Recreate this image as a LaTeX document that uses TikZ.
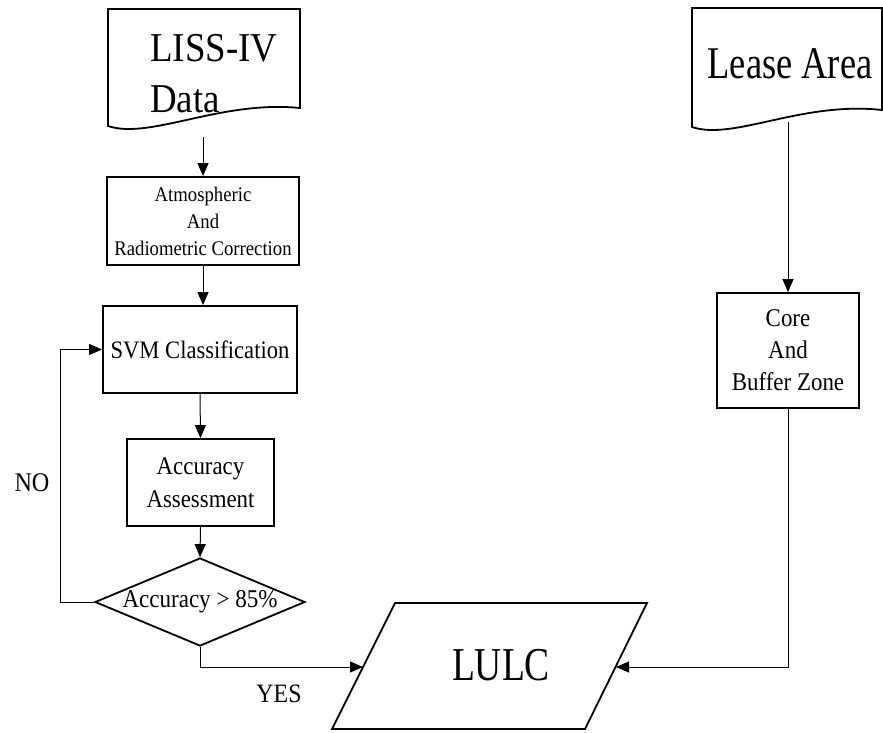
\documentclass[tikz,border=0pt]{standalone}
\usepackage{fontspec}
\setmainfont{Liberation Serif}[FakeStretch=0.9]
\usetikzlibrary{arrows.meta,shapes.geometric}
\newcommand{\vstretch}[2]{\scalebox{1}[#1]{#2}}
\begin{document}
\begin{tikzpicture}[x=1pt,y=-1pt,
  shapeline/.style={draw=black,line width=1.8pt},
  boxnode/.style={shapeline, rectangle, inner sep=0pt, align=center},
  conn/.style={draw=black,line width=1pt},
  arr/.style={conn,-{Triangle[length=13pt,width=11pt]}},
  lbl/.style={inner sep=0pt, align=center}]
\useasboundingbox[fill=white] (0,0) rectangle (883,732);

% LISS-IV document
\draw[shapeline] (108,126) -- (108,9) -- (300,9) -- (300,108)
  .. controls (220,100) and (150,140) .. (108,126) -- cycle;
\node[lbl, anchor=west, align=left, font=\fontsize{41}{51}\selectfont] (liss) at (150,74) {LISS-IV\\Data};
\coordinate (lissb) at (203,137);

\node[boxnode, minimum width=192pt, minimum height=88pt, font=\fontsize{20.8}{27}\selectfont] (atm) at (203,221) {Atmospheric\\And\\Radiometric Correction};
\node[boxnode, minimum width=194pt, minimum height=87pt, font=\fontsize{25.1}{30}\selectfont] (svm) at (200,349.5) {SVM Classification};
\node[boxnode, minimum width=147pt, minimum height=87pt, font=\fontsize{25.4}{33}\selectfont] (acc) at (200.5,482.5) {Accuracy\\Assessment};
\node[diamond, shapeline, aspect=2.39, inner sep=-2pt, minimum width=210pt, minimum height=88pt, font=\fontsize{25.6}{30}\selectfont] (dia) at (200,602) {Accuracy > 85\%};

% LULC parallelogram
\draw[shapeline] (395,603) -- (647,603) -- (585,729) -- (332,729) -- cycle;
\node[lbl, font=\fontsize{41.7}{50}\selectfont] (lulc) at (501,665) {\vstretch{1.13}{LULC}};
\coordinate (lulcL) at (363,667);
\coordinate (lulcR) at (616,667);

% Lease Area document
\draw[shapeline] (692,127) -- (692,8) -- (882,8) -- (882,110)
  .. controls (802,101) and (733,141) .. (692,127) -- cycle;
\node[lbl, font=\fontsize{40.5}{50}\selectfont] (lease) at (790,64) {\vstretch{1.12}{Lease Area}};
\coordinate (leaseb) at (788,122);
\node[boxnode, minimum width=142pt, minimum height=115pt, font=\fontsize{25.5}{32}\selectfont] (core) at (788,350.5) {Core\\And\\Buffer Zone};

% connectors
\draw[arr] (lissb) -- (atm.north);
\draw[arr] (atm.south) -- (atm.south |- svm.north);
\draw[arr] (svm.south) -- (acc.north);
\draw[arr] (acc.south) -- (dia.north);
\draw[arr] (dia.west) -- ++(-34,0) |- (svm.west);
\draw[arr] (dia.south) |- (lulcL);
\draw[arr] (leaseb) -- (core.north);
\draw[arr] (core.south) |- (lulcR);

% labels
\node[lbl, font=\fontsize{26.9}{30}\selectfont] (no) at (32,483) {NO};
\node[lbl, font=\fontsize{26.5}{30}\selectfont] (yes) at (279,694) {YES};
\end{tikzpicture}
\end{document}
